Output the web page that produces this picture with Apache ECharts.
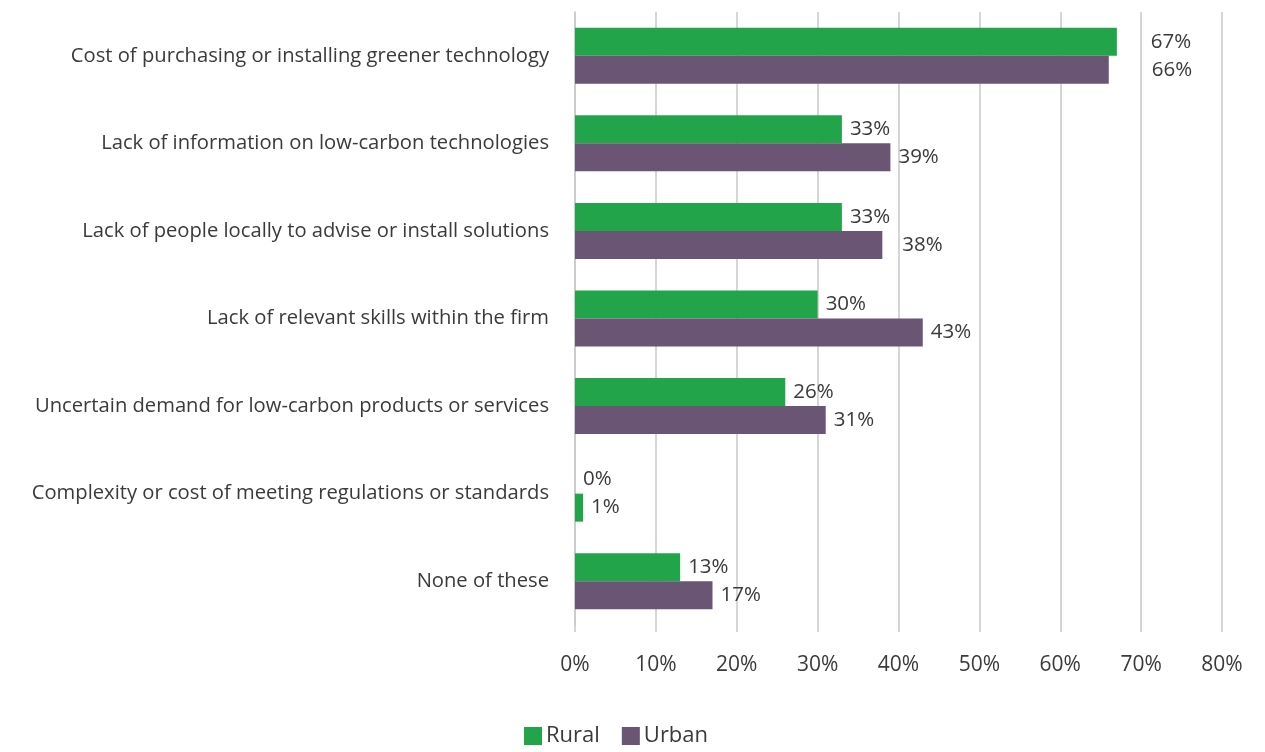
<!DOCTYPE html>
<html>
<head>
<meta charset="utf-8">
<script src="https://cdn.jsdelivr.net/npm/echarts@6/dist/echarts.min.js"></script>
<style>
  html, body { margin: 0; padding: 0; background: #ffffff; }
  #chart { width: 1265px; height: 752px; }
</style>
</head>
<body>
<div id="chart"></div>
<script>
// Barriers to adopting low-carbon practices, rural vs urban firms
const categories = [
  'Cost of purchasing or installing greener technology',
  'Lack of information on low-carbon technologies',
  'Lack of people locally to advise or install solutions',
  'Lack of relevant skills within the firm',
  'Uncertain demand for low-carbon products or services',
  'Complexity or cost of meeting regulations or standards',
  'None of these'
];
const rural = [67, 33, 33, 30, 26, 0, 13];
const urban = [66, 39, 38, 43, 31, 1, 17];
const xTicks = [0, 10, 20, 30, 40, 50, 60, 70, 80];

const GREEN = '#22a44a';
const PURPLE = '#6a5575';
const FONT = '"Open Sans", Lato, sans-serif';
const TEXT = '#3a3a3a';

const labelStyle = {
  show: true,
  position: 'right',
  distance: 8,
  formatter: p => p.value + '%',
  color: TEXT,
  fontFamily: FONT,
  fontSize: 20.5,
  padding: [3, 0, 0, 0]
};

const chart = echarts.init(document.getElementById('chart'), null, { renderer: 'canvas' });

chart.setOption({
  animation: false,
  backgroundColor: '#ffffff',
  grid: { left: 575, right: 43, top: 12, bottom: 127, containLabel: false },
  legend: {
    bottom: 0,
    left: 519,
    itemWidth: 18,
    itemHeight: 18,
    itemGap: 22,
    icon: 'rect',
    textStyle: { color: TEXT, fontFamily: FONT, fontSize: 22, padding: [0, 0, 0, -1] },
    data: ['Rural', 'Urban']
  },
  xAxis: {
    type: 'value',
    min: xTicks[0],
    max: xTicks[xTicks.length - 1],
    interval: 10,
    axisLine: { show: false },
    axisTick: { show: true, length: 7, inside: false, lineStyle: { color: '#c9c9c9', width: 1.5 } },
    splitLine: { show: true, lineStyle: { color: '#c9c9c9', width: 1.5 } },
    axisLabel: {
      margin: 30,
      color: TEXT,
      fontFamily: FONT,
      fontSize: 21,
      formatter: v => v + '%'
    }
  },
  yAxis: {
    type: 'category',
    inverse: true,
    data: categories,
    axisLine: { show: true, lineStyle: { color: '#c9c9c9', width: 1.5 } },
    axisTick: { show: false },
    axisLabel: {
      margin: 26,
      color: TEXT,
      fontFamily: FONT,
      fontSize: 20.2
    }
  },
  series: [
    {
      name: 'Rural',
      type: 'bar',
      data: rural.map((v, i) => i === 0 ? { value: v, label: { distance: 34 } } : v),
      itemStyle: { color: GREEN },
      barWidth: 28,
      barGap: '0%',
      label: labelStyle
    },
    {
      name: 'Urban',
      type: 'bar',
      data: urban.map((v, i) => {
        if (i === 0) return { value: v, label: { distance: 43 } };
        if (i === 2) return { value: v, label: { distance: 20 } };
        // regulations row is shaded green in the source report
        if (i === 5) return { value: v, itemStyle: { color: GREEN } };
        return v;
      }),
      itemStyle: { color: PURPLE },
      barWidth: 28,
      barGap: '0%',
      label: labelStyle
    }
  ]
});
</script>
</body>
</html>
